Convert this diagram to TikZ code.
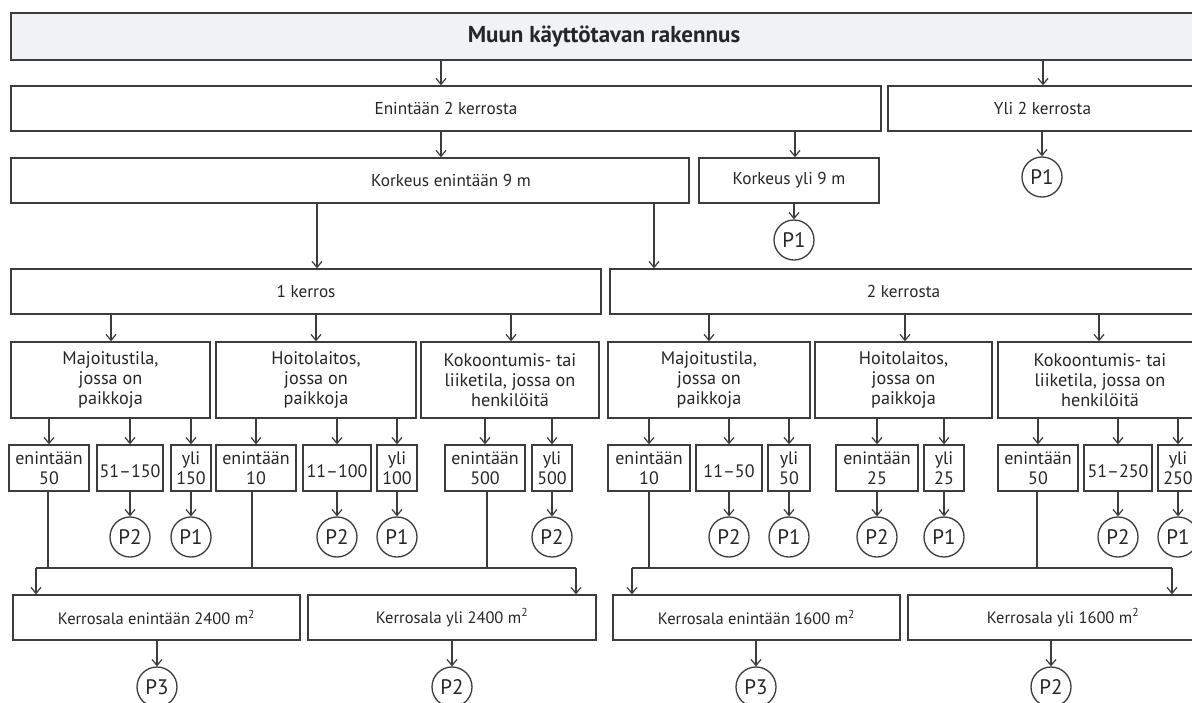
\documentclass[tikz,border=0pt]{standalone}
\usepackage{fontspec}
\setmainfont{PT Sans}
\usetikzlibrary{arrows.meta}
\definecolor{lncol}{HTML}{3C3C3C}
\definecolor{txcol}{HTML}{262626}
\definecolor{topfill}{HTML}{F1F2F4}
\tikzset{
 box/.style={draw=lncol, line width=1.4pt, fill=white, inner sep=0pt, text=txcol, align=center, font=\fontsize{17.2}{19}\selectfont},
 midbox/.style={box, font=\fontsize{18.2}{20}\selectfont},
 smallbox/.style={box, font=\fontsize{18}{20}\selectfont},
 areabox/.style={box, font=\fontsize{16.5}{18}\selectfont},
 lbl/.style={text=txcol, inner sep=0pt, font=\fontsize{17.2}{19}\selectfont},
 pc/.style={circle, draw=lncol, line width=1.3pt, fill=white, minimum size=40pt, inner sep=0pt, text=txcol, font=\fontsize{21}{24}\selectfont},
 arr/.style={draw=lncol, line width=1.2pt, -{Straight Barb[length=6pt,width=10pt]}},
 plain/.style={draw=lncol, line width=1.3pt},
}
\newcommand\bx[7][]{\node[box,#1,minimum width={(#5-#3)*1pt},minimum height={(#6-#4)*1pt}] (#2) at ({(#3+#5)/2},{(#4+#6)/2}) {#7};}
\begin{document}
\begin{tikzpicture}[x=1pt,y=-1pt]
\useasboundingbox (0,0) rectangle (1192,702);
\fill[white] (0,0) rectangle (1192,702);
\clip (0,0) rectangle (1192,702);
% level 0-2
\bx[fill=topfill,font=\bfseries\fontsize{23}{26}\selectfont]{top}{11}{13}{1197}{60}{Muun käyttötavan rakennus}
\bx{en2}{11}{86}{881}{131}{Enintään 2 kerrosta}
\bx{yli2}{888}{86}{1197}{131}{Yli 2 kerrosta}
\bx[label={[lbl,xshift=101pt]center:Korkeus enintään 9 m}]{kor9}{11}{158}{689}{203}{}
\bx{kory9}{699}{158}{879}{203}{Korkeus yli 9 m}
\node[pc] (p1a) at (1042,177) {P1};
\node[pc] (p1b) at (794,240) {P1};
\bx{k1}{11}{269}{601}{314}{1 kerros}
\bx{k2}{610}{269}{1197}{314}{2 kerrosta}
% use boxes
\bx[midbox]{maj1}{11}{342}{210}{418}{Majoitustila,\\jossa on\\paikkoja}
\bx[midbox]{hoi1}{216}{342}{416}{418}{Hoitolaitos,\\jossa on\\paikkoja}
\bx[midbox]{kok1}{421}{342}{599}{418}{Kokoontumis- tai\\liiketila, jossa on\\henkilöitä}
\bx[midbox]{maj2}{608}{342}{810}{418}{Majoitustila,\\jossa on\\paikkoja}
\bx[midbox]{hoi2}{815}{342}{992}{418}{Hoitolaitos,\\jossa on\\paikkoja}
\bx[midbox]{kok2}{998}{342}{1202}{418}{Kokoontumis- tai\\liiketila, jossa on\\henkilöitä}
% small boxes
\bx[smallbox]{a1}{9}{445}{89}{491}{enintään\\50}
\bx[smallbox]{a2}{97}{445}{163}{491}{~\\51–150}
\bx[smallbox]{a3}{171}{445}{211}{491}{yli\\150}
\bx[smallbox]{b1}{216}{445}{296}{491}{enintään\\10}
\bx[smallbox]{b2}{303}{445}{371}{491}{~\\11–100}
\bx[smallbox]{b3}{377}{445}{417}{491}{yli\\100}
\bx[smallbox]{c1}{445}{445}{525}{491}{enintään\\500}
\bx[smallbox]{c2}{532}{445}{572}{491}{yli\\500}
\bx[smallbox]{d1}{608}{445}{690}{491}{enintään\\10}
\bx[smallbox]{d2}{696}{445}{762}{491}{~\\11–50}
\bx[smallbox]{d3}{768}{445}{810}{491}{yli\\50}
\bx[smallbox]{e1}{836}{445}{918}{491}{enintään\\25}
\bx[smallbox]{e2}{924}{445}{964}{491}{yli\\25}
\bx[smallbox]{f1}{998}{445}{1078}{491}{enintään\\50}
\bx[smallbox]{f2}{1084}{445}{1152}{491}{~\\51–250}
\bx[smallbox]{f3}{1158}{445}{1198}{491}{yli\\250}
% circles row
\node[pc] (pa2) at (130,537) {P2};
\node[pc] (pa3) at (191,537) {P1};
\node[pc] (pb2) at (337,537) {P2};
\node[pc] (pb3) at (397,537) {P1};
\node[pc] (pc2) at (552,537) {P2};
\node[pc] (pd2) at (729,537) {P2};
\node[pc] (pd3) at (789,537) {P1};
\node[pc] (pe1) at (877,537) {P2};
\node[pc] (pe2) at (944,537) {P1};
\node[pc] (pf2) at (1118,537) {P2};
\node[pc] (pf3) at (1178,537) {P1};
% floor area boxes
\bx[areabox]{g1}{13}{595}{300}{640}{Kerrosala enintään 2400 m\textsuperscript{2}}
\bx[areabox]{g2}{308}{595}{596}{640}{Kerrosala yli 2400 m\textsuperscript{2}}
\bx[areabox]{h1}{613}{595}{900}{640}{Kerrosala enintään 1600 m\textsuperscript{2}}
\bx[areabox]{h2}{908}{595}{1218}{640}{Kerrosala yli 1600 m\textsuperscript{2}}
\node[pc] (pg1) at (157,687) {P3};
\node[pc] (pg2) at (452,687) {P2};
\node[pc] (ph1) at (756,687) {P3};
\node[pc] (ph2) at (1051,687) {P2};
\coordinate (bL1) at (36,568);
\coordinate (bR1) at (576,568);
\coordinate (bL2) at (632,568);
\coordinate (bR2) at (1172,568);
% connectors
\draw[arr] (441,0 |- top.south) -- (441,0 |- en2.north);
\draw[arr] (1043,0 |- top.south) -- (1043,0 |- yli2.north);
\draw[arr] (yli2.south -| p1a) -- (p1a.north);
\draw[arr] (441,0 |- en2.south) -- (441,0 |- kor9.north);
\draw[arr] (795,0 |- en2.south) -- (795,0 |- kory9.north);
\draw[arr] (kory9.south -| p1b) -- (p1b.north);
\draw[arr] (317,0 |- kor9.south) -- (317,0 |- k1.north);
\draw[arr] (654,0 |- kor9.south) -- (654,0 |- k2.north);
\draw[arr] (111,0 |- k1.south) -- (111,0 |- maj1.north);
\draw[arr] (316,0 |- k1.south) -- (316,0 |- hoi1.north);
\draw[arr] (511,0 |- k1.south) -- (511,0 |- kok1.north);
\draw[arr] (709,0 |- k2.south) -- (709,0 |- maj2.north);
\draw[arr] (905,0 |- k2.south) -- (905,0 |- hoi2.north);
\draw[arr] (1099,0 |- k2.south) -- (1099,0 |- kok2.north);
\foreach \p/\c in {maj1/a1,maj1/a2,maj1/a3,hoi1/b1,hoi1/b2,hoi1/b3,kok1/c1,kok1/c2,maj2/d1,maj2/d2,maj2/d3,hoi2/e1,hoi2/e2,kok2/f1,kok2/f2,kok2/f3}
  \draw[arr] (\p.south -| \c) -- (\c.north);
\foreach \c/\q in {a2/pa2,a3/pa3,b2/pb2,b3/pb3,c2/pc2,d2/pd2,d3/pd3,e1/pe1,e2/pe2,f2/pf2,f3/pf3}
  \draw[arr] (\c.south) -- (\q.north);
\draw[plain] (48,0 |- a1.south) -- (48,0 |- bL1);
\draw[plain] (252,0 |- b1.south) -- (252,0 |- bL1);
\draw[plain] (487,0 |- c1.south) -- (487,0 |- bL1);
\draw[plain] (649,0 |- d1.south) -- (649,0 |- bL2);
\draw[plain] (1037,0 |- f1.south) -- (1037,0 |- bL2);
\draw[plain] (bL1) -- (bR1);
\draw[plain] (bL2) -- (bR2);
\draw[arr] (bL1) -- (bL1 |- g1.north);
\draw[arr] (bR1) -- (bR1 |- g2.north);
\draw[arr] (bL2) -- (bL2 |- h1.north);
\draw[arr] (bR2) -- (bR2 |- h2.north);
\draw[arr] (g1.south -| pg1) -- (pg1.north);
\draw[arr] (g2.south -| pg2) -- (pg2.north);
\draw[arr] (h1.south -| ph1) -- (ph1.north);
\draw[arr] (h2.south -| ph2) -- (ph2.north);
\end{tikzpicture}
\end{document}
